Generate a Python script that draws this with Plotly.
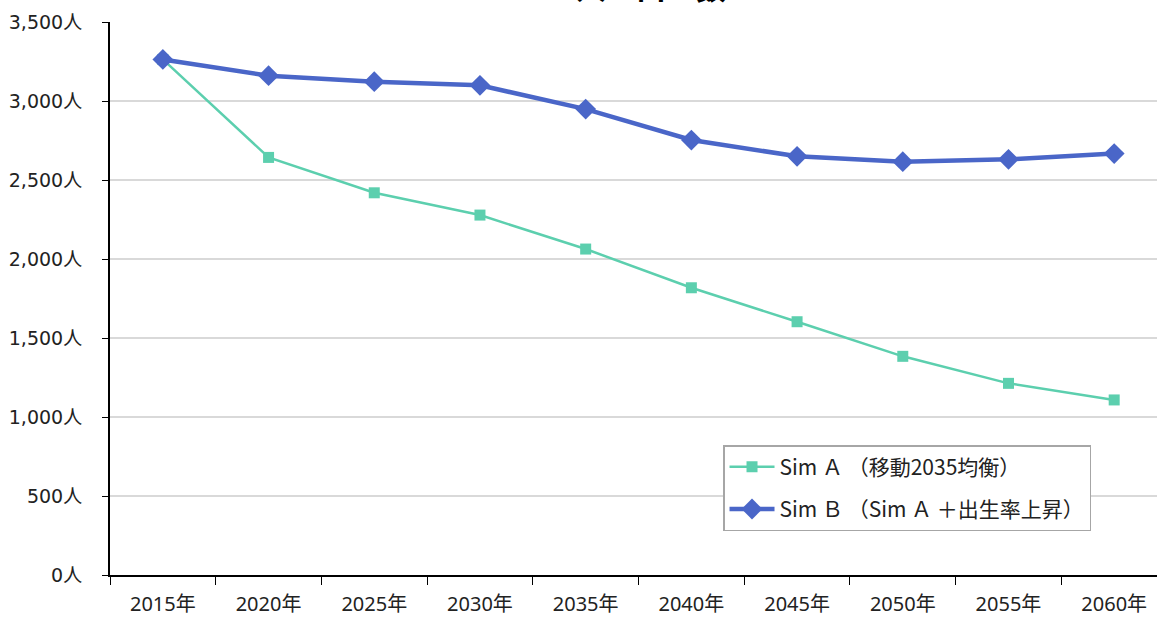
import plotly.graph_objects as go

years = ["2015年", "2020年", "2025年", "2030年", "2035年", "2040年", "2045年", "2050年", "2055年", "2060年"]
sim_a = [3263, 2643, 2419, 2278, 2063, 1818, 1603, 1384, 1213, 1108]
sim_b = [3263, 3160, 3122, 3099, 2949, 2753, 2650, 2616, 2631, 2667]
name_a = "Sim Ａ （移動2035均衡）"
name_b = "Sim Ｂ （Sim Ａ ＋出生率上昇）"
title_text = "人　口　数"
y_ticks = [0, 500, 1000, 1500, 2000, 2500, 3000, 3500]
y_ticklabels = [f"{v:,}人" for v in y_ticks]

FONT_Y = "DejaVu Sans, Noto Sans CJK JP"
FONT_X = "Noto Sans, Noto Sans CJK JP"
FONT_L = "Noto Sans CJK JP"

fig = go.Figure()
fig.add_trace(go.Scatter(
    x=years, y=sim_a, name=name_a, mode="lines+markers", legendgroup="a",
    line=dict(color="#5ccfae", width=2.5),
    marker=dict(symbol="square", size=11, color="#5ccfae"),
))
fig.add_trace(go.Scatter(
    x=years, y=sim_b, name=name_b, mode="lines+markers", legendgroup="b",
    line=dict(color="#4a66c8", width=4.5),
    marker=dict(symbol="diamond", size=16, color="#4a66c8"),
))

fig.update_layout(
    width=1157, height=617,
    margin=dict(l=110, r=0, t=22, b=42, autoexpand=False),
    paper_bgcolor="white", plot_bgcolor="white",
    font=dict(family=FONT_L, size=18, color="#222222"),
    showlegend=True,
    legend=dict(
        x=0.5855, y=0.235, xanchor="left", yanchor="top",
        bordercolor="#a6a6a6", borderwidth=1.5, bgcolor="white",
        font=dict(family=FONT_L, size=21, color="#222222"),
        itemwidth=45, tracegroupgap=12, traceorder="grouped",
    ),
    xaxis=dict(
        type="category", range=[-0.5, 9.405], automargin=False,
        showline=True, linecolor="black", linewidth=2,
        ticks="outside", tickson="boundaries", ticklen=8, tickcolor="black", tickwidth=1,
        ticklabelstandoff=10,
        showgrid=False, zeroline=False,
        tickfont=dict(family=FONT_X, size=20, color="#222222"),
    ),
    yaxis=dict(
        range=[0, 3500], tickvals=y_ticks, ticktext=y_ticklabels, automargin=False,
        showline=True, linecolor="black", linewidth=2,
        ticks="outside", ticklen=6, tickcolor="black", tickwidth=1,
        ticklabelstandoff=16,
        showgrid=True, gridcolor="#d9d9d9", gridwidth=1.5,
        zeroline=False,
        tickfont=dict(family=FONT_Y, size=19, color="#222222"),
    ),
    annotations=[dict(
        text=f"<b>{title_text}</b>", xref="paper", yref="paper",
        x=0.5167, y=1.021, xanchor="center", yanchor="bottom",
        showarrow=False, font=dict(family=FONT_L, size=30, color="black"),
    )],
)

fig.write_html(
    "out.html",
    config={"displayModeBar": False},
    post_script="document.body.style.margin='0';document.body.style.overflow='hidden';",
)
